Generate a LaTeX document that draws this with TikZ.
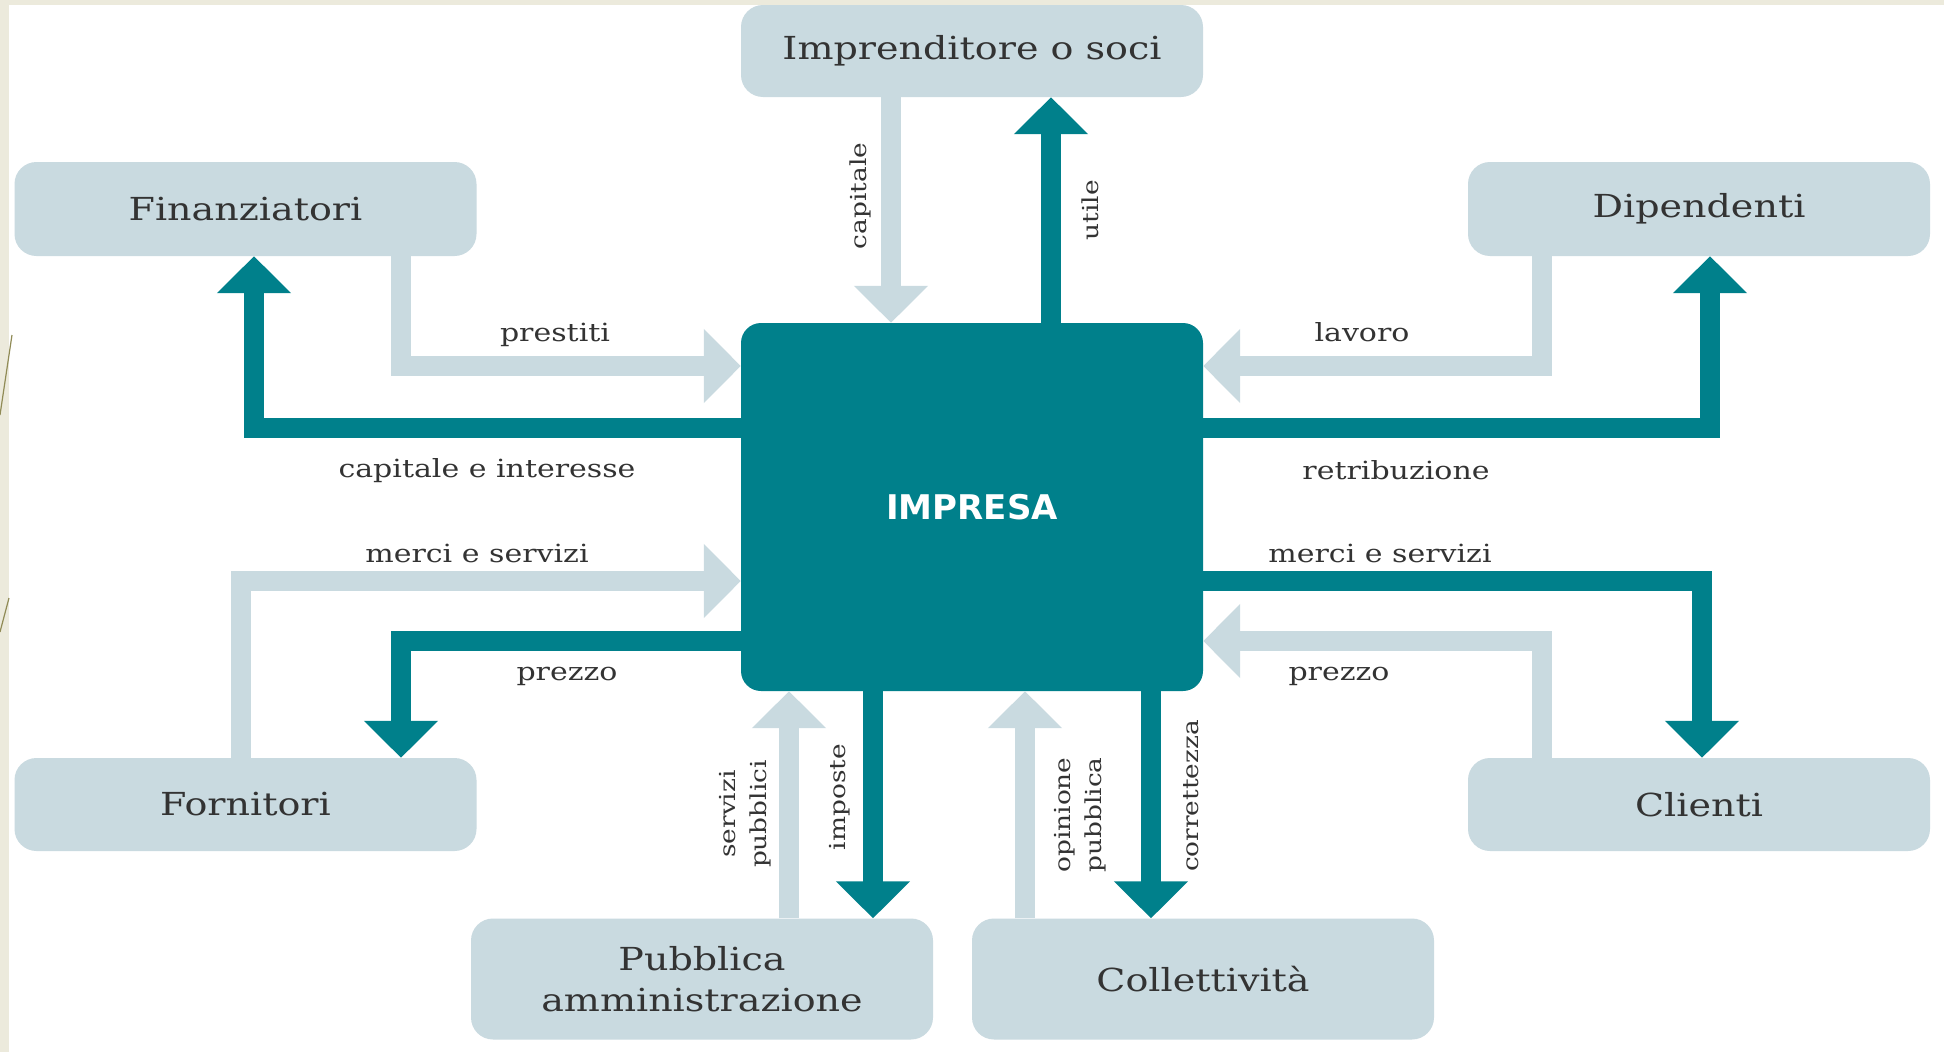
\documentclass[tikz,border=0pt]{standalone}
\usepackage{fontspec}
\setmainfont{DejaVu Serif}[FakeStretch=1.2]
\newfontfamily\impfont{DejaVu Sans}
\usetikzlibrary{arrows.meta}
\definecolor{teal1}{RGB}{0,128,139}
\definecolor{pale}{RGB}{201,218,224}
\definecolor{txt}{RGB}{51,51,51}
\definecolor{beige}{RGB}{236,234,220}
\begin{document}
\begin{tikzpicture}[x=1pt,y=-1pt,
  box/.style={fill=pale, rounded corners=22pt, minimum width=462pt, inner sep=0pt, text=txt,
    font=\fontsize{31.7pt}{41pt}\selectfont, align=center},
  lbl/.style={text=txt, font=\fontsize{25pt}{30pt}\selectfont, inner sep=0pt},
  vlbl/.style={text=txt, font=\fontsize{22pt}{31pt}\selectfont, inner sep=0pt, rotate=90, align=center},
  darkarr/.style={draw=teal1, line width=20pt, -{Triangle[width=72pt,length=37pt]}},
  lightarr/.style={draw=pale, line width=20pt, -{Triangle[width=72pt,length=37pt]}}]
\useasboundingbox (0,0) rectangle (1944,1052);
\fill[beige] (0,0) rectangle (1944,1052);
\fill[white] (9,5) rectangle (1944,1052);
\draw[line width=1.2pt, color=gray!60!olive] (0,415) -- (12,335);
\draw[line width=1.2pt, color=gray!60!olive] (0,632) -- (9,598);

% boxes
\node[box, minimum height=92pt] (imp) at (972,51) {Imprenditore o soci};
\node[box, minimum height=94pt] (fin) at (245.5,209) {Finanziatori};
\node[box, minimum height=94pt] (dip) at (1699,209) {Dipendenti};
\node[box, minimum height=93pt] (forn) at (245.5,804.5) {Fornitori};
\node[box, minimum height=93pt] (cli) at (1699,804.5) {Clienti};
\node[box, minimum height=121pt] (pa) at (702,979) {Pubblica\\amministrazione};
\node[box, minimum height=121pt] (coll) at (1203,979) {Collettività};
\node[fill=teal1, rounded corners=20pt, minimum width=462pt, minimum height=368pt, inner sep=0pt,
  text=white, font=\impfont\bfseries\fontsize{34pt}{40pt}\selectfont] (impresa) at (972,507) {IMPRESA};

% connectors
\draw[lightarr] (imp.south -| 891,0) -- (impresa.north -| 891,0);
\draw[darkarr] (impresa.north -| 1051,0) -- (imp.south -| 1051,0);
\draw[lightarr] (fin.south -| 401,0) |- (impresa.west |- 0,366);
\draw[darkarr] (impresa.west |- 0,428) -| (fin.south -| 254,0);
\draw[lightarr] (dip.south -| 1542,0) |- (impresa.east |- 0,366);
\draw[darkarr] (impresa.east |- 0,428) -| (dip.south -| 1710,0);
\draw[lightarr] (forn.north -| 241,0) |- (impresa.west |- 0,581);
\draw[darkarr] (impresa.west |- 0,641) -| (forn.north -| 401,0);
\draw[darkarr] (impresa.east |- 0,581) -| (cli.north -| 1702,0);
\draw[lightarr] (cli.north -| 1542,0) |- (impresa.east |- 0,641);
\draw[lightarr] (pa.north -| 789,0) -- (impresa.south -| 789,0);
\draw[darkarr] (impresa.south -| 873,0) -- (pa.north -| 873,0);
\draw[lightarr] (coll.north -| 1025,0) -- (impresa.south -| 1025,0);
\draw[darkarr] (impresa.south -| 1151,0) -- (coll.north -| 1151,0);

% labels
\node[vlbl] (lcap) at (860,196) {capitale};
\node[vlbl] (lutile) at (1090,210) {utile};
\node[lbl] (lprest) at (555,335) {prestiti};
\node[lbl] (lcapint) at (487,471) {capitale e interesse};
\node[lbl] (llav) at (1362,332) {lavoro};
\node[lbl] (lretr) at (1396,470) {retribuzione};
\node[lbl] (lmerciL) at (477,553) {merci e servizi};
\node[lbl] (lprezzoL) at (567,676) {prezzo};
\node[lbl] (lmerciR) at (1380,553) {merci e servizi};
\node[lbl] (lprezzoR) at (1339,676) {prezzo};
\node[vlbl] (lserv) at (745,814) {servizi\\pubblici};
\node[vlbl] (limp) at (840,797) {imposte};
\node[vlbl] (lopin) at (1080,815) {opinione\\pubblica};
\node[vlbl] (lcorr) at (1191,796) {correttezza};
\end{tikzpicture}
\end{document}
